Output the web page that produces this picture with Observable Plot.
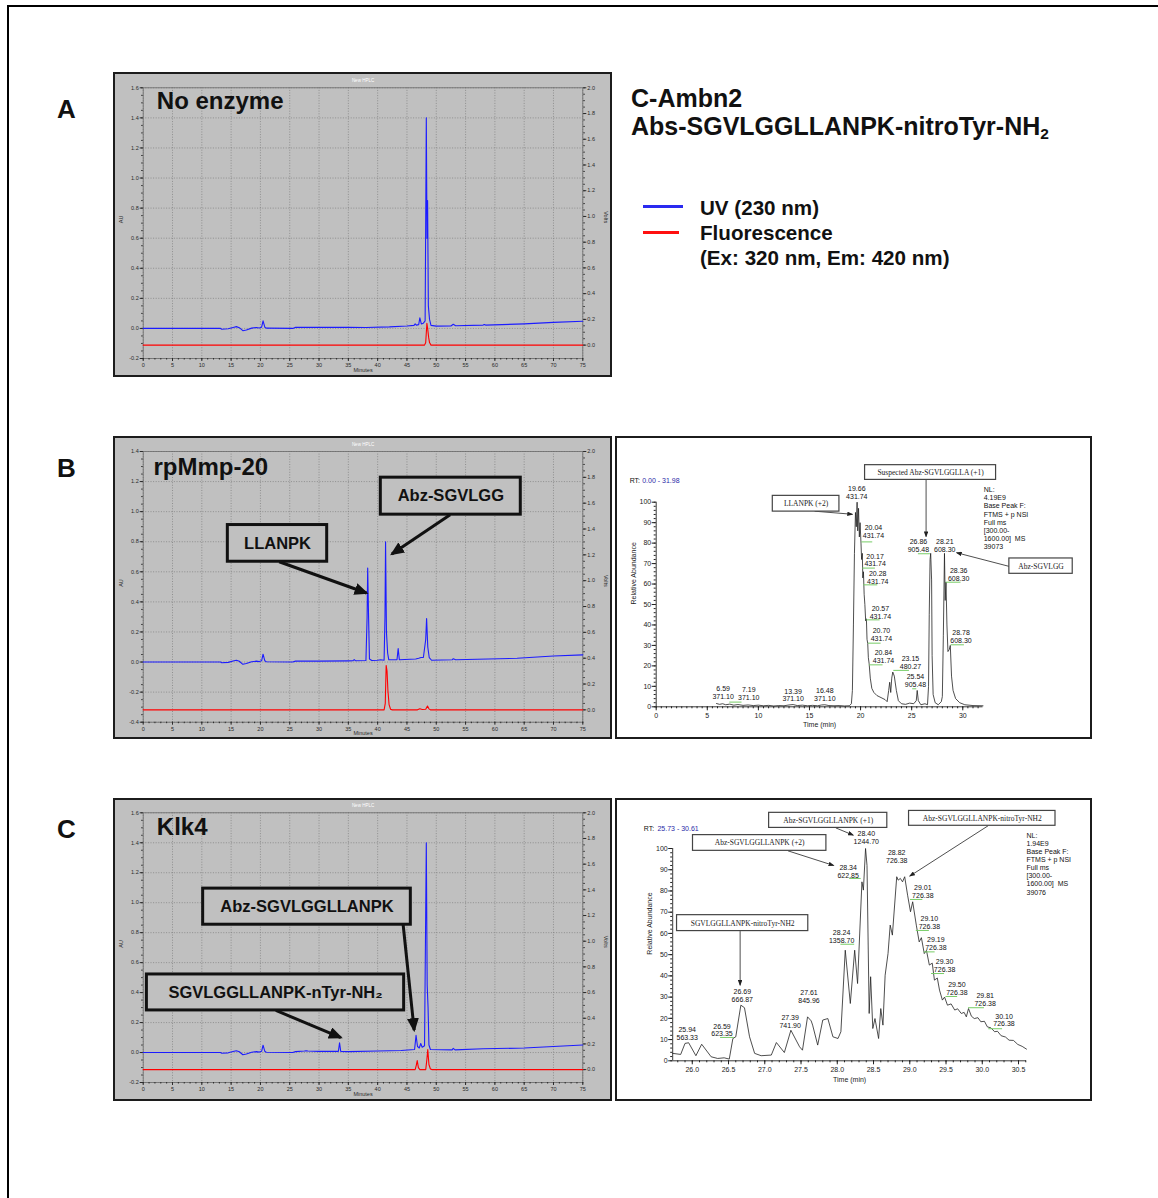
<!DOCTYPE html>
<html><head><meta charset="utf-8">
<script src="https://cdn.jsdelivr.net/npm/d3@7"></script>
<script src="https://cdn.jsdelivr.net/npm/@observablehq/plot@0.6"></script>
<style>
body{margin:0;background:#fff;}
#page{position:relative;width:1158px;height:1198px;overflow:hidden;font-family:Arial,"Liberation Sans",sans-serif;color:#111;}
.t{position:absolute;white-space:nowrap;}
.box{position:absolute;box-sizing:border-box;border:2px solid #1c1c1c;}
.box svg{display:block;}
.hplc{background:#c0c0c0;}
.ms{background:#fff;}
sub{font-size:0.62em;vertical-align:-0.28em;line-height:0;}
</style></head><body><div id="page"></div>
<script>
// ---------------- data ----------------
const minuteTicks = [0,5,10,15,20,25,30,35,40,45,50,55,60,65,70,75];
const voltTicks = [0,0.2,0.4,0.6,0.8,1.0,1.2,1.4,1.6,1.8,2.0];
const auTicksA = [-0.2,0,0.2,0.4,0.6,0.8,1.0,1.2,1.4,1.6];
const auTicksB = [-0.4,-0.2,0,0.2,0.4,0.6,0.8,1.0,1.2,1.4];
const auTicksC = [-0.2,0,0.2,0.4,0.6,0.8,1.0,1.2,1.4,1.6];

// UV 230 nm traces (minutes, AU)
const uvA = [[0,0],[13.2,0],[13.4,-0.005],[14.5,-0.002],[15.5,0.008],[15.9,0.012],[16.4,0.005],[17.0,-0.015],[17.6,-0.01],[18.5,0.002],[19.3,0.006],[19.8,0.003],[20.2,0.008],[20.45,0.05],[20.75,0.008],[21.0,0.002],[25.5,0],[26.0,0.007],[30,0.007],[35,0.007],[38,0.006],[42,0.01],[45,0.016],[46.2,0.02],[46.4,0.03],[46.6,0.022],[47.0,0.025],[47.2,0.07],[47.45,0.03],[47.8,0.035],[48.1,0.05],[48.3,1.40],[48.42,0.6],[48.52,0.85],[48.65,0.15],[48.85,0.06],[49.1,0.02],[50,0.015],[52.5,0.016],[52.9,0.028],[53.3,0.018],[58,0.022],[58.2,0.026],[58.4,0.022],[65,0.03],[70,0.04],[75,0.048]];
const uvB = [[0,0],[13.2,0],[13.4,-0.005],[14.5,-0.002],[15.5,0.008],[15.9,0.012],[16.4,0.005],[17.0,-0.015],[17.6,-0.01],[18.5,0.002],[19.3,0.006],[19.8,0.003],[20.2,0.008],[20.45,0.052],[20.75,0.008],[21.0,0.002],[25.5,0],[26.0,0.006],[30,0.006],[35,0.008],[35.8,0.009],[36.0,0.016],[36.2,0.009],[38.0,0.01],[38.2,0.3],[38.3,0.625],[38.45,0.3],[38.6,0.02],[39,0.01],[40,0.012],[40.5,0.015],[41.1,0.012],[41.25,0.3],[41.35,0.8],[41.5,0.2],[41.7,0.06],[41.9,0.015],[43.3,0.015],[43.5,0.09],[43.7,0.015],[46.5,0.02],[47.0,0.025],[47.4,0.03],[47.8,0.03],[48.2,0.15],[48.35,0.29],[48.55,0.1],[48.8,0.03],[49.2,0.012],[52.7,0.015],[52.9,0.022],[53.3,0.015],[63.8,0.025],[70,0.04],[75,0.048]];
const uvC = [[0,0],[13.2,0],[13.4,-0.005],[14.5,-0.002],[15.5,0.008],[15.9,0.012],[16.4,0.005],[17.0,-0.015],[17.6,-0.01],[18.5,0.002],[19.3,0.006],[19.8,0.003],[20.2,0.008],[20.45,0.049],[20.75,0.008],[21.0,0.002],[25.5,0],[26.0,0.006],[27.5,0.01],[27.8,0.012],[28.1,0.01],[30,0.008],[33.3,0.008],[33.5,0.065],[33.7,0.008],[35,0.006],[40,0.01],[44,0.014],[46.3,0.02],[46.55,0.115],[46.8,0.04],[47.1,0.03],[47.35,0.06],[47.6,0.035],[48.0,0.045],[48.3,1.4],[48.45,0.45],[48.6,0.3],[48.75,0.05],[49,0.02],[52.7,0.018],[52.9,0.028],[53.2,0.018],[58,0.025],[65,0.03],[70,0.04],[75,0.05]];

// Fluorescence traces (minutes, Volts)
const flA = [[0,0],[48.0,0],[48.2,0.02],[48.4,0.17],[48.55,0.12],[48.7,0.06],[48.85,0.02],[49.1,0],[75,0]];
const flB = [[0,0],[41.1,0],[41.3,0.05],[41.45,0.344],[41.6,0.3],[41.75,0.15],[41.95,0.04],[42.2,0.005],[42.5,0],[46.8,0],[47.2,0.008],[47.6,0.003],[48.2,0.005],[48.5,0.03],[48.75,0.008],[49.0,0],[75,0]];
const flC = [[0,0],[46.4,0],[46.6,0.035],[46.75,0.07],[46.95,0.015],[47.2,0],[48.2,0],[48.4,0.08],[48.55,0.156],[48.75,0.04],[49.0,0.005],[49.3,0],[75,0]];

// HPLC annotations (minutes / AU)
const notesB = [{text:"LLANPK",x1:14.44,x2:31.39,y1:0.667,y2:0.911},{text:"Abz-SGVLGG",x1:40.54,x2:64.42,y1:0.98,y2:1.226}];
const pointersB = [{x1:23.2,y1:0.667,x2:38.1,y2:0.459},{x1:52.37,y1:0.98,x2:42.42,y2:0.718}];
const notesC = [{text:"Abz-SGVLGGLLANPK",x1:10.23,x2:45.66,y1:0.853,y2:1.094},{text:"SGVLGGLLANPK-nTyr-NH₂",x1:0.63,x2:44.52,y1:0.281,y2:0.521}];
const pointersC = [{x1:44.35,y1:0.853,x2:46.23,y2:0.15},{x1:22.63,y1:0.281,x2:33.72,y2:0.1}];

// MS total-ion chromatograms (minutes, relative abundance %)
const msTicksB = [0,5,10,15,20,25,30];
const msTicksC = [26.0,26.5,27.0,27.5,28.0,28.5,29.0,29.5,30.0,30.5];
const abundanceTicks = [0,10,20,30,40,50,60,70,80,90,100];
const msTraceB = [[5.9,1.6],[6.2,1.2],[6.5,1.5],[6.8,1.0],[7.2,1.3],[7.6,0.8],[8.0,1.1],[8.5,0.7],[9.0,0.9],[9.5,0.6],[10.0,0.8],[10.5,0.5],[11.0,0.7],[11.5,0.4],[12.0,0.6],[12.5,0.5],[13.0,0.9],[13.4,1.1],[13.8,0.6],[14.3,0.8],[14.8,0.5],[15.3,0.7],[15.8,0.5],[16.2,0.9],[16.5,1.0],[16.9,0.6],[17.4,0.5],[17.9,0.6],[18.4,0.4],[18.9,0.5],[19.1,1.5],[19.2,8],[19.3,40],[19.4,75],[19.5,95],[19.58,88],[19.66,100],[19.72,86],[19.8,97],[19.88,83],[19.95,90],[20.04,80],[20.1,72],[20.17,75],[20.22,63],[20.28,66],[20.35,55],[20.42,50],[20.5,42],[20.57,43],[20.63,33],[20.70,31],[20.76,24],[20.84,21],[20.95,14],[21.1,9],[21.3,7],[21.6,5.5],[22.0,4.5],[22.4,3.5],[22.6,2.5],[22.75,8],[22.85,12],[22.95,7],[23.05,14],[23.15,17],[23.3,15],[23.5,8],[23.7,3],[24.0,1.5],[24.4,1.2],[24.8,1.8],[25.2,1.5],[25.45,3],[25.54,8],[25.65,3],[25.9,1],[26.3,1.5],[26.55,1],[26.65,10],[26.72,45],[26.8,72],[26.86,75],[26.95,62],[27.0,25],[27.1,6],[27.3,2],[27.6,1],[27.9,2.5],[28.0,5],[28.1,35],[28.21,75],[28.28,52],[28.36,61],[28.45,40],[28.55,27],[28.68,28],[28.78,30],[28.9,15],[29.05,8],[29.3,4],[29.7,2],[30.2,1],[31.0,0.6],[31.98,0.5]];
const msTraceC = [[25.73,3.5],[25.84,3.0],[25.90,8.2],[25.95,8.5],[26.05,2.4],[26.13,7.8],[26.26,1.9],[26.35,1.1],[26.44,1.4],[26.51,0.8],[26.56,10.5],[26.60,11.3],[26.67,26.2],[26.72,25],[26.79,11.3],[26.86,3.5],[26.95,2.4],[27.09,2.7],[27.16,8.6],[27.27,3.9],[27.36,14.4],[27.48,6.6],[27.52,5.0],[27.59,20.7],[27.64,18.8],[27.66,16.8],[27.73,7.4],[27.80,19.2],[27.87,19.9],[27.94,11.3],[28.01,10.5],[28.05,13.7],[28.11,52.1],[28.18,27],[28.24,52.1],[28.28,36.4],[28.34,84.3],[28.36,80.4],[28.39,100],[28.41,92],[28.44,22.3],[28.46,39.6],[28.49,15.2],[28.52,19.9],[28.57,10.5],[28.60,24.6],[28.63,16.8],[28.66,40.3],[28.70,50.5],[28.73,63.9],[28.76,59.2],[28.82,86.7],[28.84,85.1],[28.87,85.9],[28.90,84.3],[28.93,86.7],[28.97,78],[29.01,70.2],[29.04,74.9],[29.09,63.9],[29.13,56],[29.16,58],[29.20,50.5],[29.23,52],[29.27,45.1],[29.31,46],[29.34,38],[29.38,39],[29.41,33.3],[29.45,28.6],[29.48,30],[29.52,26.2],[29.57,26.8],[29.62,23.9],[29.66,24.5],[29.71,22.3],[29.75,22.8],[29.78,20.7],[29.81,24.6],[29.85,21],[29.89,19.9],[29.94,20.3],[29.98,18.4],[30.03,18.6],[30.07,16],[30.12,15.5],[30.17,13.7],[30.21,13.9],[30.26,11.8],[30.32,11.2],[30.37,9.7],[30.43,9.6],[30.49,7.7],[30.55,6.8],[30.61,5.5]];

// peak labels: time, m/z, label centre x, label base y, green mark x1..x2 at gy
const peaksB = [
 {t:"6.59",m:"371.10",x:6.55,y:3.7},
 {t:"7.19",m:"371.10",x:9.06,y:3.3,g1:7.2,g2:8.4,gy:2.3},
 {t:"13.39",m:"371.10",x:13.4,y:2.6},
 {t:"16.48",m:"371.10",x:16.5,y:2.9},
 {t:"19.66",m:"431.74",x:19.63,y:101.6},
 {t:"20.04",m:"431.74",x:21.26,y:82.4,g1:20.12,g2:21.19,gy:80.6},
 {t:"20.17",m:"431.74",x:21.42,y:68.6,g1:20.22,g2:21.45,gy:67.8},
 {t:"20.28",m:"431.74",x:21.68,y:59.9,g1:20.31,g2:21.68,gy:59.6},
 {t:"20.57",m:"431.74",x:21.94,y:43,g1:20.61,g2:21.91,gy:42.5},
 {t:"20.70",m:"431.74",x:22.04,y:32.1,g1:20.77,g2:22.01,gy:31.1},
 {t:"20.84",m:"431.74",x:22.24,y:21.3,g1:20.87,g2:22.2,gy:20.5},
 {t:"23.15",m:"480.27",x:24.88,y:18.7,g1:23.25,g2:24.78,gy:17.8},
 {t:"25.54",m:"905.48",x:25.37,y:9.9,g1:25.1,g2:25.5,gy:8.8},
 {t:"26.86",m:"905.48",x:25.66,y:75.6,g1:25.66,g2:26.83,gy:74.8},
 {t:"28.21",m:"608.30",x:28.24,y:75.9},
 {t:"28.36",m:"608.30",x:29.6,y:61.7,g1:28.37,g2:29.83,gy:60.9},
 {t:"28.78",m:"608.30",x:29.83,y:31.1,g1:28.86,g2:30.16,gy:30.3}
];
const peaksC = [
 {t:"25.94",m:"563.33",x:25.93,y:9.9},
 {t:"26.59",m:"623.35",x:26.41,y:11.5,g1:26.39,g2:26.58,gy:11.0},
 {t:"26.69",m:"666.87",x:26.69,y:27.6},
 {t:"27.39",m:"741.90",x:27.35,y:15.5},
 {t:"27.61",m:"845.96",x:27.61,y:27.2},
 {t:"28.24",m:"1358.70",x:28.06,y:55.7,g1:28.05,g2:28.24,gy:54.9},
 {t:"28.34",m:"622.85",x:28.15,y:86.3,g1:28.17,g2:28.33,gy:85.9},
 {t:"28.40",m:"1244.70",x:28.40,y:102},
 {t:"28.82",m:"726.38",x:28.82,y:93.4},
 {t:"29.01",m:"726.38",x:29.18,y:76.6,g1:29.01,g2:29.18,gy:76},
 {t:"29.10",m:"726.38",x:29.27,y:62.3,g1:29.09,g2:29.27,gy:61.4},
 {t:"29.19",m:"726.38",x:29.36,y:52.1,g1:29.20,g2:29.35,gy:51.3},
 {t:"29.30",m:"726.38",x:29.48,y:41.9,g1:29.30,g2:29.48,gy:41.1},
 {t:"29.50",m:"726.38",x:29.65,y:31.2,g1:29.50,g2:29.66,gy:30.3},
 {t:"29.81",m:"726.38",x:30.04,y:25.9,g1:29.81,g2:30.03,gy:25},
 {t:"30.10",m:"726.38",x:30.3,y:16.2,g1:30.09,g2:30.28,gy:15.1}
];
const msNotesB = [
 {text:"LLANPK (+2)",x1:11.41,x2:17.93,y1:95.4,y2:103.1},
 {text:"Suspected Abz-SGVLGGLLA (+1)",x1:20.44,x2:33.26,y1:110.9,y2:118.1},
 {text:"Abz-SGVLGG",x1:34.56,x2:40.76,y1:65,y2:72.5}
];
const msPointersB = [{x1:15.5,y1:95.6,x2:19.2,y2:94.1},{x1:26.41,y1:110.9,x2:26.41,y2:83.2},{x1:34.56,y1:68.6,x2:29.4,y2:75.3}];
const msNotesC = [
 {text:"Abz-SGVLGGLLANPK (+1)",x1:27.06,x2:28.69,y1:109.7,y2:116.8},
 {text:"Abz-SGVLGGLLANPK (+2)",x1:26.01,x2:27.85,y1:98.9,y2:106.3},
 {text:"Abz-SGVLGGLLANPK-nitroTyr-NH2",x1:28.99,x2:31.01,y1:110.7,y2:117.7},
 {text:"SGVLGGLLANPK-nitroTyr-NH2",x1:25.79,x2:27.60,y1:61.1,y2:68.6}
];
const msPointersC = [{x1:27.98,y1:109.7,x2:28.22,y2:106.3},{x1:27.32,y1:98.9,x2:27.95,y2:92.0},{x1:30.08,y1:110.7,x2:29.0,y2:87.0},{x1:26.66,y1:61.1,x2:26.66,y2:35.6}];
const nlB = ["NL:","4.19E9","Base Peak F:","FTMS + p NSI","Full ms","[300.00-","1600.00]  MS","39073"];
const nlC = ["NL:","1.94E9","Base Peak F:","FTMS + p NSI","Full ms","[300.00-","1600.00]  MS","39076"];

// ---------------- layout helpers ----------------
const page = document.getElementById("page");
const FONT = "Arial, 'Liberation Sans', sans-serif";
function txt(html, x, base, size, weight="bold", color="#111") {
  const d = document.createElement("div");
  d.className = "t";
  d.style.cssText = `left:${x}px;top:${base - 0.8465*size}px;font-size:${size}px;line-height:${size}px;font-weight:${weight};color:${color};`;
  d.innerHTML = html;
  page.appendChild(d);
}
function box(cls, x, y, w, h) {
  const d = document.createElement("div");
  d.className = "box " + cls;
  d.style.cssText = `left:${x}px;top:${y}px;width:${w}px;height:${h}px;`;
  page.appendChild(d);
  return d;
}
function addHeads(svg, id, len, wid, color) {
  const ns = "http://www.w3.org/2000/svg";
  const defs = document.createElementNS(ns, "defs");
  const m = document.createElementNS(ns, "marker");
  m.setAttribute("id", id);
  m.setAttribute("markerUnits", "userSpaceOnUse");
  m.setAttribute("markerWidth", len);
  m.setAttribute("markerHeight", wid);
  m.setAttribute("viewBox", `0 0 ${len} ${wid}`);
  m.setAttribute("refX", len * 0.85);
  m.setAttribute("refY", wid / 2);
  m.setAttribute("orient", "auto");
  const p = document.createElementNS(ns, "path");
  p.setAttribute("d", `M0,0L${len},${wid/2}L0,${wid}Z`);
  p.setAttribute("fill", color);
  m.appendChild(p); defs.appendChild(m);
  svg.insertBefore(defs, svg.firstChild);
  svg.querySelectorAll('g[aria-label="link"] path').forEach(q => q.setAttribute("marker-end", `url(#${id})`));
}

// outer frame
const frame = document.createElement("div");
frame.style.cssText = "position:absolute;left:7px;top:5px;width:1300px;height:1300px;border-top:2px solid #000;border-left:2px solid #000;";
page.appendChild(frame);

// panel letters
txt("A", 57, 118, 26);
txt("B", 57, 477, 26);
txt("C", 57, 838, 26);

// title + legend
txt("C-Ambn2", 631, 107, 25);
txt("Abs-SGVLGGLLANPK-nitroTyr-NH<sub>2</sub>", 631, 135, 25);
const lb = document.createElement("div");
lb.style.cssText = "position:absolute;left:643px;top:205px;width:40px;height:3px;background:#2a2af0;";
page.appendChild(lb);
const lr = document.createElement("div");
lr.style.cssText = "position:absolute;left:643px;top:231px;width:36px;height:3px;background:#ff1010;";
page.appendChild(lr);
txt("UV (230 nm)", 700, 215, 20.6);
txt("Fluorescence", 700, 240, 20.6);
txt("(Ex: 320 nm, Em: 420 nm)", 700, 265, 20.6);

// ---------------- HPLC panels ----------------
function hplc(cfg) {
  const el = box("hplc", 113, cfg.top, 499, cfg.h);
  const [lo, hi] = cfg.yDomain;
  const v2au = v => cfg.vZero + v * (hi - cfg.vZero) / 2;
  const au2v = a => (a - cfg.vZero) * 2 / (hi - cfg.vZero);
  const minorX = d3.range(0, 75.001, 1);
  const minorY = d3.range(lo, hi + 1e-9, 0.05);
  const minorV = d3.range(0, 2.0001, 0.05).map(v2au);
  const grid = {stroke: "#7a7a7a", strokeOpacity: 1, strokeDasharray: "1,1.6", strokeWidth: 0.7};
  const tk = {fontSize: 5.5, tickPadding: 1.5, label: null};
  const notes = cfg.notes || [], ptrs = cfg.pointers || [];
  const svg = Plot.plot({
    width: 495, height: cfg.h - 4,
    marginLeft: 27.7, marginRight: 27.7, marginTop: cfg.mt, marginBottom: cfg.mb,
    style: {background: "none", fontFamily: FONT, color: "#2a2a2a", overflow: "visible"},
    x: {domain: [0, 75]},
    y: {domain: [lo, hi]},
    marks: [
      Plot.gridX(minuteTicks, grid),
      Plot.gridY(cfg.auTicks, grid),
      Plot.frame({stroke: "#6a6a6a", strokeWidth: 0.8}),
      Plot.axisX(minorX, {tickSize: 1.5, tickFormat: () => "", label: null}),
      Plot.axisX(minuteTicks, {tickSize: 3, ...tk}),
      Plot.axisY(minorY, {tickSize: 1.5, tickFormat: () => "", label: null}),
      Plot.axisY(cfg.auTicks, {tickSize: 3, tickFormat: d => d.toFixed(1), ...tk}),
      Plot.axisY(minorV, {anchor: "right", tickSize: 1.5, tickFormat: () => "", label: null}),
      Plot.axisY(voltTicks.map(v2au), {anchor: "right", tickSize: 3, tickFormat: d => au2v(d).toFixed(1), ...tk}),
      Plot.text(["AU"], {text: d => d, frameAnchor: "left", rotate: -90, dx: -22, fontSize: 5.5}),
      Plot.text(["Volts"], {text: d => d, frameAnchor: "right", rotate: 90, dx: 23, fontSize: 5.5}),
      Plot.text(["Minutes"], {text: d => d, frameAnchor: "bottom", dy: 13, fontSize: 5.5}),
      Plot.text(["New HPLC"], {text: d => d, frameAnchor: "top", dy: -9, fontSize: 4.5, fill: "#fff"}),
      Plot.line(cfg.uv, {x: d => d[0], y: d => d[1], stroke: "#1c1cff", strokeWidth: 1.1}),
      Plot.line(cfg.fl, {x: d => d[0], y: d => v2au(d[1]), stroke: "#ff0000", strokeWidth: 1.1}),
      Plot.text([cfg.title], {text: d => d, frameAnchor: "top-left", dx: cfg.tdx, dy: cfg.tdy, lineAnchor: "top", textAnchor: "start", fontSize: 24, fontWeight: "bold", fill: "#111"}),
      Plot.link(ptrs, {x1: "x1", y1: "y1", x2: "x2", y2: "y2", stroke: "#111", strokeWidth: 3}),
      Plot.rect(notes, {x1: "x1", x2: "x2", y1: "y1", y2: "y2", fill: "#c0c0c0", stroke: "#111", strokeWidth: 3}),
      Plot.text(notes, {x: d => (d.x1 + d.x2) / 2, y: d => (d.y1 + d.y2) / 2, text: "text", fontSize: 16.5, fontWeight: "bold", fill: "#111"})
    ]
  });
  addHeads(svg, "head" + cfg.top, 14, 12, "#111");
  el.appendChild(svg);
}
hplc({top: 72, h: 305, mt: 13.3, mb: 17, yDomain: [-0.2, 1.6], vZero: -0.111, auTicks: auTicksA, uv: uvA, fl: flA, title: "No enzyme", tdx: 13.6, tdy: 3.7});
hplc({top: 436, h: 303, mt: 13, mb: 15.3, yDomain: [-0.4, 1.4], vZero: -0.318, auTicks: auTicksB, uv: uvB, fl: flB, title: "rpMmp-20", tdx: 10.3, tdy: 6.7, notes: notesB, pointers: pointersB});
hplc({top: 798, h: 303, mt: 12.3, mb: 17, yDomain: [-0.2, 1.6], vZero: -0.114, auTicks: auTicksC, uv: uvC, fl: flC, title: "Klk4", tdx: 13.6, tdy: 4.7, notes: notesC, pointers: pointersC});

// ---------------- MS panels ----------------
function ms(cfg) {
  const el = box("ms", 615, cfg.top, 477, 303);
  const x0 = cfg.domain[0];
  const dims = {width: 473, height: 299, marginLeft: cfg.ml, marginRight: cfg.mr, marginTop: cfg.mt, marginBottom: cfg.mb};
  const svg = Plot.plot({
    ...dims,
    style: {background: "none", fontFamily: FONT, color: "#222", overflow: "visible"},
    x: {domain: cfg.domain},
    y: {domain: [0, 100]},
    marks: [
      Plot.axisX(cfg.minorX, {tickSize: 2, tickFormat: () => "", label: null}),
      Plot.axisX(cfg.xTicks, {tickSize: 4, tickPadding: 2, fontSize: 7, tickFormat: cfg.fmt, label: null}),
      Plot.axisY(d3.range(0, 100.01, 2), {tickSize: 2, tickFormat: () => "", label: null}),
      Plot.axisY(abundanceTicks, {tickSize: 4, tickPadding: 1, fontSize: 7, label: null}),
      Plot.ruleY([0], {stroke: "#222", strokeWidth: 0.9}),
      Plot.ruleX([x0], {y1: 0, y2: 100, stroke: "#222", strokeWidth: 0.9}),
      Plot.text(["Relative Abundance"], {text: d => d, frameAnchor: "left", rotate: -90, dx: cfg.ydx, fontSize: 7}),
      Plot.text(["Time (min)"], {text: d => d, frameAnchor: "bottom", dy: cfg.xdy, fontSize: 7}),
      Plot.line(cfg.trace, {x: d => d[0], y: d => d[1], stroke: "#222", strokeWidth: 0.8}),
      Plot.ruleY(cfg.peaks.filter(d => d.g1 != null), {x1: "g1", x2: "g2", y: "gy", stroke: "#77cc66", strokeWidth: 1}),
      Plot.text(cfg.peaks, {x: "x", y: "y", text: d => d.t + "\n" + d.m, fontSize: 7, lineHeight: 1.12, lineAnchor: "bottom", fill: "#111"}),
      Plot.text([cfg.nl.join("\n")], {x: cfg.nlx, y: cfg.nly, text: d => d, textAnchor: "start", lineAnchor: "top", fontSize: 7, lineHeight: 1.16, fill: "#111"}),
      Plot.text(["RT:"], {x: cfg.rtx, y: cfg.rty, text: d => d, textAnchor: "start", fontSize: 7, fill: "#111"}),
      Plot.text([cfg.rt], {x: cfg.rtx2, y: cfg.rty, text: d => d, textAnchor: "start", fontSize: 7, fill: "#2a2aa8"}),
      Plot.link(cfg.pointers, {x1: "x1", y1: "y1", x2: "x2", y2: "y2", stroke: "#222", strokeWidth: 0.8}),
      Plot.rect(cfg.notes, {x1: "x1", x2: "x2", y1: "y1", y2: "y2", fill: "#fff", stroke: "#444", strokeWidth: 1.2}),
      Plot.text(cfg.notes, {x: d => (d.x1 + d.x2) / 2, y: d => (d.y1 + d.y2) / 2, text: "text", fontSize: 7.5, fontFamily: "'Liberation Serif', 'Times New Roman', serif", fill: "#222"})
    ]
  });
  addHeads(svg, "mshead" + cfg.top, 6, 4.5, "#222");
  el.appendChild(svg);
}
ms({top: 436, domain: [0, 31.98], ml: 38.7, mr: 107.5, mt: 63.7, mb: 30.7,
  xTicks: msTicksB, minorX: d3.range(0, 31.98, 0.5), fmt: d => String(d), trace: msTraceB, peaks: peaksB,
  nl: nlB, nlx: 32.05, nly: 107.7, rtx: -2.6, rtx2: -1.37, rty: 110.6, rt: "0.00 - 31.98",
  notes: msNotesB, pointers: msPointersB, ydx: -22, xdy: 20.5});
ms({top: 798, domain: [25.73, 30.61], ml: 55.2, mr: 64, mt: 48, mb: 38.7,
  xTicks: msTicksC, minorX: d3.range(25.8, 30.61, 0.1), fmt: d => d.toFixed(1), trace: msTraceC, peaks: peaksC,
  nl: nlC, nlx: 30.61, nly: 107.8, rtx: 25.33, rtx2: 25.52, rty: 109.4, rt: "25.73 - 30.61",
  notes: msNotesC, pointers: msPointersC, ydx: -23, xdy: 21.5});
</script></body></html>
